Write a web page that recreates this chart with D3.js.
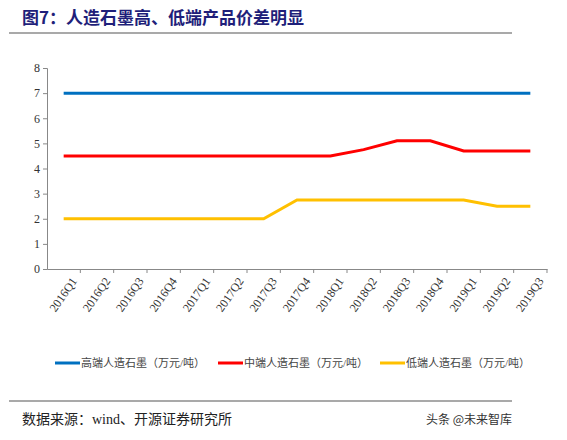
<!DOCTYPE html>
<html><head><meta charset="utf-8">
<script src="https://cdn.jsdelivr.net/npm/d3@7"></script>
<style>body{margin:0;background:#fff}</style>
</head><body>
<svg id="c" width="567" height="440"></svg>
<script>
var quarters = ["2016Q1","2016Q2","2016Q3","2016Q4","2017Q1","2017Q2","2017Q3","2017Q4","2018Q1","2018Q2","2018Q3","2018Q4","2019Q1","2019Q2","2019Q3"];
var high = [7,7,7,7,7,7,7,7,7,7,7,7,7,7,7];
var mid = [4.5,4.5,4.5,4.5,4.5,4.5,4.5,4.5,4.5,4.75,5.1,5.1,4.7,4.7,4.7];
var low = [2,2,2,2,2,2,2,2.75,2.75,2.75,2.75,2.75,2.75,2.5,2.5];
var seriesNames = ["高端人造石墨（万元/吨）","中端人造石墨（万元/吨）","低端人造石墨（万元/吨）"];
var colors = ["#0070c0","#ff0000","#ffc000"];

var svg = d3.select("#c");
var serif = "'Liberation Serif','Noto Sans CJK SC',serif";

//title
svg.append("text").attr("x",22).attr("y",24).attr("fill","#1f1f7a")
  .attr("font-family","'Noto Sans CJK SC'").attr("font-weight","bold").attr("font-size",17)
  .text("图7：人造石墨高、低端产品价差明显");
svg.append("line").attr("x1",9).attr("x2",512).attr("y1",33).attr("y2",33).attr("stroke","#555").attr("stroke-width",1.2);

var x = d3.scaleBand().domain(quarters).range([47,547]);
var y = d3.scaleLinear().domain([0,8]).range([269,68]);

svg.append("g").attr("transform","translate(47,0)")
  .call(d3.axisLeft(y).ticks(8).tickSize(4))
  .call(g=>g.selectAll("text").attr("font-family",serif).attr("font-size",12).attr("fill","#333"))
  .call(g=>g.selectAll("line,path").attr("stroke","#888"));

var xa = svg.append("g").attr("transform","translate(0,269)")
  .call(d3.axisBottom(x).tickSize(0).tickSizeOuter(0));
xa.select("path").attr("stroke","#888");
xa.selectAll("text").attr("font-family",serif).attr("font-size",12).attr("fill","#333")
  .attr("text-anchor","end").attr("dy","0.35em")
  .attr("transform","translate(8,8) rotate(-55)");
xa.selectAll(".tick").append("line").attr("x1",x.bandwidth()/2).attr("x2",x.bandwidth()/2).attr("y1",0).attr("y2",4).attr("stroke","#888");

var line = d3.line().x((d,i)=>x(quarters[i])+x.bandwidth()/2).y(d=>y(d));
[high,mid,low].forEach(function(s,k){
  svg.append("path").datum(s).attr("d",line).attr("fill","none").attr("stroke",colors[k]).attr("stroke-width",3);
});

//legend
var lx = [55,218,380];
seriesNames.forEach(function(n,k){
  svg.append("line").attr("x1",lx[k]).attr("x2",lx[k]+25).attr("y1",363).attr("y2",363).attr("stroke",colors[k]).attr("stroke-width",3);
  svg.append("text").attr("x",lx[k]+26).attr("y",367).attr("font-family",serif).attr("font-size",11).attr("fill","#444").text(n);
});

svg.append("line").attr("x1",9).attr("x2",512).attr("y1",401).attr("y2",401).attr("stroke","#555").attr("stroke-width",1.2);
svg.append("text").attr("x",22).attr("y",424).attr("font-family",serif).attr("font-size",14).attr("fill","#222").text("数据来源：wind、开源证券研究所");
svg.append("text").attr("x",512).attr("y",424).attr("text-anchor","end").attr("font-family","'Noto Sans CJK SC'").attr("font-size",12).attr("fill","#333").text("头条 @未来智库");
</script>
</body></html>
